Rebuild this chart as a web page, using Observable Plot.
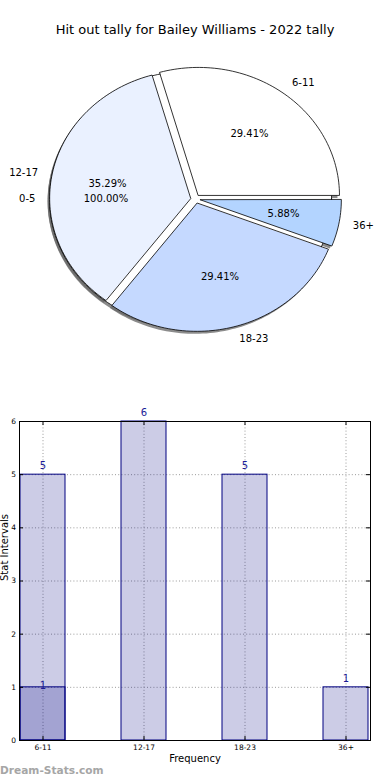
<!DOCTYPE html>
<html><head><meta charset="utf-8">
<script src="https://cdn.jsdelivr.net/npm/d3@7"></script>
<script src="https://cdn.jsdelivr.net/npm/@observablehq/plot@0.6"></script>
<style>
body{margin:0;background:#fff;font-family:"DejaVu Sans",sans-serif;}
#wrap{position:relative;width:390px;height:780px;overflow:hidden;}
#title{position:absolute;top:22px;left:0;width:390px;text-align:center;font-size:13px;line-height:16px;color:#000;}
#pie{position:absolute;top:50px;left:0;}
#bar{position:absolute;top:400px;left:0;}
#wm{position:absolute;left:0;top:763px;font-size:10.6px;line-height:14px;color:#a6a6a6;font-weight:bold;}
svg{overflow:visible;}
</style></head><body>
<div id="wrap">
<div id="title">Hit out tally for Bailey Williams - 2022 tally</div>
<div id="pie"></div>
<div id="bar"></div>
<div id="wm">Dream-Stats.com</div>
</div>
<script>
// ---- data ----
const pieLabels = ["6-11", "12-17", "18-23", "36+"];
const pieCounts = [5, 6, 5, 1];
const pieColors = ["#ffffff", "#eaf1ff", "#c5d9ff", "#b3d4ff"];
const innerLabels = ["0-5"];
const innerCounts = [1];
const innerColors = ["#ffffff"];
const barCategories = ["6-11", "12-17", "18-23", "36+"];
const barValues = [5, 6, 5, 1];
const overlayCategories = ["6-11"];
const overlayValues = [1];
const yTicks = [0, 1, 2, 3, 4, 5, 6];
const axisTitles = {x: "Frequency", y: "Stat Intervals"};

// ---- pie geometry (unit circle, ellipse comes from the x/y scales) ----
const EXPLODE = 0.035;
function wedges(labels, counts, colors) {
  const total = d3.sum(counts);
  let a = 0;
  return labels.map((label, i) => {
    const a0 = a, a1 = a + counts[i] / total * 2 * Math.PI; a = a1;
    const mid = (a0 + a1) / 2;
    const ox = EXPLODE * Math.cos(mid), oy = EXPLODE * Math.sin(mid);
    const n = Math.max(4, Math.ceil((a1 - a0) / (2 * Math.PI) * 240));
    const pts = [];
    if (counts[i] !== total) pts.push({x: ox, y: oy});
    for (let k = 0; k <= n; k++) {
      const t = a0 + (a1 - a0) * k / n;
      pts.push({x: ox + Math.cos(t), y: oy + Math.sin(t)});
    }
    return {label, color: colors[i], pct: (counts[i] / total * 100).toFixed(2) + "%", mid, ox, oy, pts};
  });
}
const outer = wedges(pieLabels, pieCounts, pieColors);
const inner = wedges(innerLabels, innerCounts, innerColors);
const all = inner.concat(outer);

const RX = 141, RY = 128, CX = 195, CY = 148.5, PW = 390, PH = 310;
const shadowMarks = all.map(w => Plot.line(w.pts, {x: "x", y: "y", curve: "linear-closed", fill: "#666", fillOpacity: 0.75, stroke: "none", dx: -2, dy: 2.5}));
const wedgeMarks = all.map(w => Plot.line(w.pts, {x: "x", y: "y", curve: "linear-closed", fill: w.color, stroke: "#000", strokeWidth: 0.8}));
const labelPos = all.map(w => ({label: w.label, pct: w.pct, right: Math.cos(w.mid) >= 0,
  lx: w.ox + 1.1 * Math.cos(w.mid), ly: w.oy + 1.1 * Math.sin(w.mid),
  px: w.ox + 0.6 * Math.cos(w.mid), py: w.oy + 0.6 * Math.sin(w.mid)}));

const pie = Plot.plot({
  width: PW, height: PH, margin: 0,
  style: {fontFamily: "DejaVu Sans", fontSize: "10px", background: "transparent", color: "#000"},
  x: {domain: [-CX / RX, (PW - CX) / RX], axis: null},
  y: {domain: [-(PH - CY) / RY, CY / RY], axis: null},
  marks: [
    ...shadowMarks,
    ...wedgeMarks,
    Plot.text(labelPos.filter(d => d.right), {x: "lx", y: "ly", text: "label", textAnchor: "start", fontSize: 10, fill: "#000"}),
    Plot.text(labelPos.filter(d => !d.right), {x: "lx", y: "ly", text: "label", textAnchor: "end", fontSize: 10, fill: "#000"}),
    Plot.text(labelPos, {x: "px", y: "py", text: "pct", textAnchor: "middle", fontSize: 10, fill: "#000"})
  ]
});
document.getElementById("pie").appendChild(pie);

// ---- bar chart ----
const barData = barCategories.map((c, i) => ({category: c, value: barValues[i]}));
const overlayData = overlayCategories.map((c, i) => ({category: c, value: overlayValues[i]}));
const BW = 390, BH = 380, MT = 21, MB = 40, ML = 19, MR = 20;
const frameW = BW - ML - MR, frameH = BH - MT - MB;
const NAVY = "#000080", LABEL = "#1c1c96";

const bar = Plot.plot({
  width: BW, height: BH, marginTop: MT, marginBottom: MB, marginLeft: ML, marginRight: MR,
  style: {fontFamily: "DejaVu Sans", fontSize: "7.5px", background: "transparent", color: "#000"},
  x: {type: "band", domain: barCategories, paddingInner: 0.55, paddingOuter: 0, align: 0.5, tickSize: 0, tickPadding: 4, label: null},
  y: {domain: [0, 6], ticks: yTicks, tickFormat: d3.format("d"), tickSize: 0, tickPadding: 3.5, label: null},
  marks: [
    Plot.ruleY(yTicks.slice(1, -1), {stroke: "#9a9a9a", strokeDasharray: "1,2.2", strokeWidth: 1}),
    Plot.ruleX(barCategories, {stroke: "#9a9a9a", strokeDasharray: "1,2.2", strokeWidth: 1}),
    Plot.barY(barData, {x: "category", y: "value", fill: NAVY, fillOpacity: 0.2, stroke: NAVY, strokeWidth: 1}),
    Plot.barY(overlayData, {x: "category", y: "value", fill: NAVY, fillOpacity: 0.2, stroke: NAVY, strokeWidth: 1}),
    Plot.text(barData, {x: "category", y: "value", text: d => String(d.value), dy: -9, fontSize: 10, fill: LABEL}),
    Plot.text(overlayData, {x: "category", y: "value", text: d => String(d.value), dy: -1.5, fontSize: 10, fill: LABEL}),
    // inward tick marks on all four sides
    Plot.ruleY(yTicks, {stroke: "#000", insetRight: frameW - 4}),
    Plot.ruleY(yTicks, {stroke: "#000", insetLeft: frameW - 4}),
    Plot.ruleX(barCategories, {stroke: "#000", insetTop: frameH - 4}),
    Plot.ruleX(barCategories, {stroke: "#000", insetBottom: frameH - 4}),
    Plot.frame({stroke: "#000", strokeWidth: 1}),
    Plot.text([axisTitles.x], {frameAnchor: "bottom", dy: 21, fontSize: 10, fill: "#000"}),
    Plot.text([axisTitles.y], {frameAnchor: "left", dx: -15, rotate: -90, fontSize: 10, fill: "#000"})
  ]
});
document.getElementById("bar").appendChild(bar);
</script>
</body></html>
